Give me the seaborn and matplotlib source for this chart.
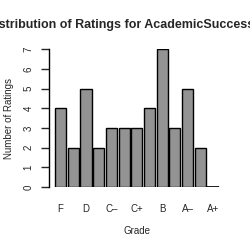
import matplotlib
matplotlib.use("Agg")
import matplotlib.pyplot as plt
import seaborn as sns
import pandas as pd

grades = ["F", "D-", "D", "D+", "C-", "C", "C+", "B-", "B", "B+", "A-", "A", "A+"]
counts = [4, 2, 5, 2, 3, 3, 3, 4, 7, 3, 5, 2, 0]
tick_labels = ["F", "", "D", "", "C\u2013", "", "C+", "", "B", "", "A\u2013", "", "A+"]

sns.set_style("white")
plt.rcParams['font.family'] = ['Liberation Sans', 'DejaVu Sans']

df = pd.DataFrame({"Grade": grades, "Count": counts})

fig = plt.figure(figsize=(2.5, 2.5), dpi=100)
ax = fig.add_axes([49/250, 63/250, (224.4-49)/250, (187-49.3)/250])

sns.barplot(data=df, x="Grade", y="Count", order=grades, color="#939393",
            saturation=1, edgecolor="black", linewidth=1.0, width=0.88, ax=ax)

ax.set_xlim(-0.92, 12.9)
ax.set_ylim(0, 7)
for s in ["top", "right", "bottom"]:
    ax.spines[s].set_visible(False)
ax.spines["left"].set_color("black")
ax.spines["left"].set_linewidth(1.0)
ax.spines["left"].set_bounds(0, 7)

ax.set_yticks(range(0, 8))
ax.set_yticklabels([str(i) for i in range(0, 8)], rotation=90, va="center", fontsize=7)
ax.tick_params(axis="y", length=6, width=1, direction="out", left=True, pad=5)

ax.set_xticks(range(len(grades)))
ax.set_xticklabels(tick_labels, fontsize=7)
ax.tick_params(axis="x", length=0, pad=12)

# zero-height bar drawn as a line
ax.hlines(0, 12 - 0.44, 12 + 0.44, color="black", linewidth=1.2)

ax.set_xlabel("Grade", fontsize=7, labelpad=9)
ax.set_ylabel("Number of Ratings", fontsize=7, labelpad=7)

fig.text(120/250, 1 - 25/250, "Distribution of Ratings for AcademicSuccess",
         fontsize=9, fontweight="bold", ha="center", va="center")

fig.savefig("out.png", dpi=100)
